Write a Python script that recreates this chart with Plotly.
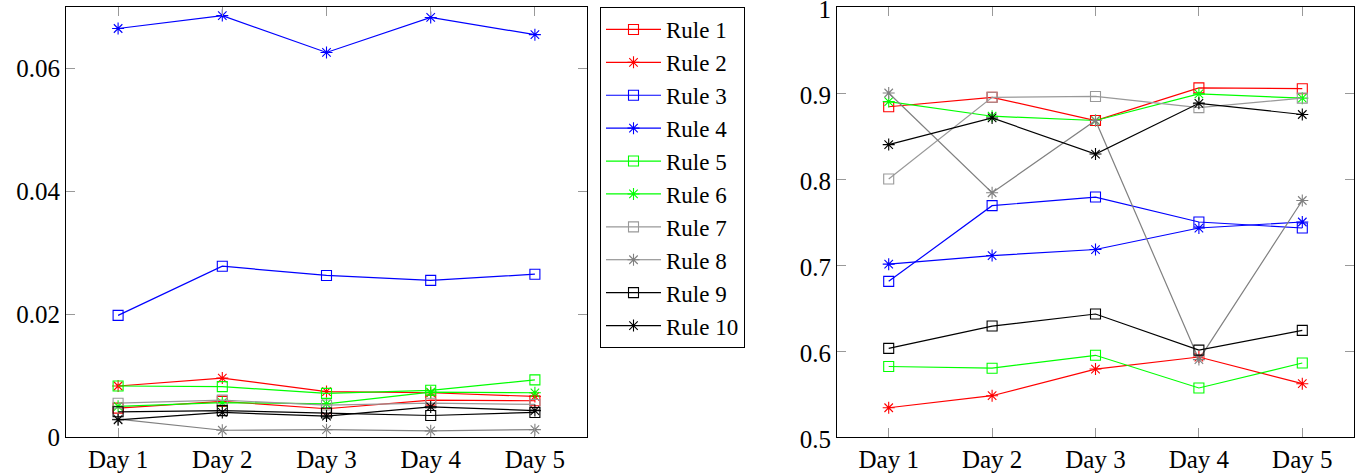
import plotly.graph_objects as go

days = ["Day 1", "Day 2", "Day 3", "Day 4", "Day 5"]
day_pos = [1, 2, 3, 4, 5]
rule_names = ["Rule 1", "Rule 2", "Rule 3", "Rule 4", "Rule 5",
              "Rule 6", "Rule 7", "Rule 8", "Rule 9", "Rule 10"]
rule_colors = ["#ff0000", "#ff0000", "#0000ff", "#0000ff", "#00ff00",
               "#00ff00", "#999999", "#808080", "#000000", "#000000"]
rule_symbols = ["square-open", "asterisk-open"] * 5

# Left panel values
left_values = [
    [0.0047, 0.0058, 0.0046, 0.0060, 0.0059],   # Rule 1
    [0.0083, 0.0096, 0.0074, 0.0072, 0.0066],   # Rule 2
    [0.0198, 0.0278, 0.0263, 0.0255, 0.0265],   # Rule 3
    [0.0665, 0.0686, 0.0626, 0.0683, 0.0655],   # Rule 4
    [0.0083, 0.0082, 0.0071, 0.0076, 0.0093],   # Rule 5
    [0.0050, 0.0056, 0.0054, 0.0073, 0.0072],   # Rule 6
    [0.0055, 0.0060, 0.0052, 0.0055, 0.0053],   # Rule 7
    [0.0029, 0.0011, 0.0012, 0.0010, 0.0012],   # Rule 8
    [0.0041, 0.0043, 0.0039, 0.0035, 0.0040],   # Rule 9
    [0.0028, 0.0040, 0.0034, 0.0049, 0.0043],   # Rule 10
]

# Right panel values
right_values = [
    [0.884, 0.895, 0.868, 0.906, 0.905],   # Rule 1
    [0.534, 0.548, 0.579, 0.593, 0.562],   # Rule 2
    [0.681, 0.769, 0.779, 0.750, 0.743],   # Rule 3
    [0.701, 0.711, 0.718, 0.743, 0.750],   # Rule 4
    [0.582, 0.580, 0.595, 0.557, 0.586],   # Rule 5
    [0.890, 0.873, 0.868, 0.899, 0.894],   # Rule 6
    [0.800, 0.895, 0.896, 0.883, 0.894],   # Rule 7
    [0.900, 0.784, 0.868, 0.590, 0.775],   # Rule 8
    [0.603, 0.629, 0.643, 0.601, 0.624],   # Rule 9
    [0.840, 0.871, 0.829, 0.888, 0.875],   # Rule 10
]

left_ticks = [0, 0.02, 0.04, 0.06]
left_ticktext = ["0", "0.02", "0.04", "0.06"]
right_ticks = [0.5, 0.6, 0.7, 0.8, 0.9, 1.0]
right_ticktext = ["0.5", "0.6", "0.7", "0.8", "0.9", "1"]

FONT = "Liberation Serif, Times New Roman, serif"
W, H = 1364, 473

fig = go.Figure()
for i, name in enumerate(rule_names):
    common = dict(mode="lines+markers",
                  line=dict(color=rule_colors[i], width=1.2),
                  marker=dict(symbol=rule_symbols[i], size=10,
                              color=rule_colors[i],
                              line=dict(color=rule_colors[i], width=1.1)))
    fig.add_trace(go.Scatter(x=day_pos, y=left_values[i], name=name,
                             xaxis="x", yaxis="y", showlegend=True, **common))
for i, name in enumerate(rule_names):
    common = dict(mode="lines+markers",
                  line=dict(color=rule_colors[i], width=1.2),
                  marker=dict(symbol=rule_symbols[i], size=10,
                              color=rule_colors[i],
                              line=dict(color=rule_colors[i], width=1.1)))
    fig.add_trace(go.Scatter(x=day_pos, y=right_values[i], name=name,
                             xaxis="x2", yaxis="y2", showlegend=False, **common))

axis_common = dict(showline=True, linecolor="black", linewidth=1,
                   mirror="allticks", ticks="inside", ticklen=9,
                   tickcolor="#999999", tickwidth=1, showgrid=False,
                   zeroline=False, automargin=False,
                   ticklabeloverflow="allow",
                   tickfont=dict(family=FONT, size=25, color="black"))

x_dom1 = [66 / W, 587 / W]
x_dom2 = [837 / W, 1354 / W]
y_dom = [36 / H, 1 - 7 / H]

fig.update_layout(
    width=W, height=H,
    margin=dict(l=0, r=0, t=0, b=0),
    paper_bgcolor="white", plot_bgcolor="white",
    font=dict(family=FONT, size=25, color="black"),
    xaxis=dict(domain=x_dom1, range=[0.5, 5.5], tickvals=day_pos,
               ticktext=days, anchor="y", **axis_common),
    yaxis=dict(domain=y_dom, range=[0, 0.07], tickvals=left_ticks,
               ticktext=left_ticktext, anchor="x", **axis_common),
    xaxis2=dict(domain=x_dom2, range=[0.5, 5.5], tickvals=day_pos,
                ticktext=days, anchor="y2", **axis_common),
    yaxis2=dict(domain=y_dom, range=[0.5, 1.0], tickvals=right_ticks,
                ticktext=right_ticktext, anchor="x2", ticklabelshift=2,
                **axis_common),
    legend=dict(x=600 / W, y=1 - 7 / H, xanchor="left", yanchor="top",
                bordercolor="black", borderwidth=1, bgcolor="white",
                font=dict(family=FONT, size=23, color="black"),
                itemwidth=55, tracegroupgap=0),
)

fig.write_html("out.html",
               config={"displayModeBar": False},
               post_script="document.body.style.margin='0';"
                           "document.body.style.padding='0';"
                           "document.body.style.overflow='hidden';")
